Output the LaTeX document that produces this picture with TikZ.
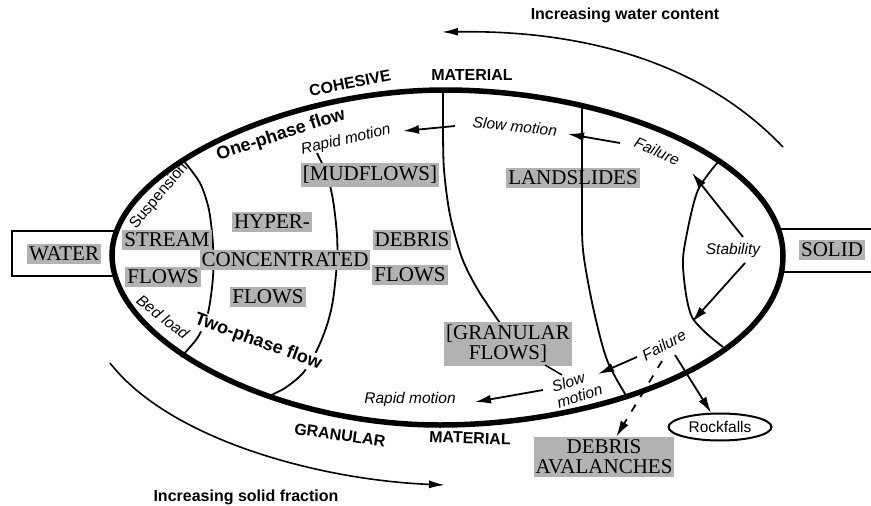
\documentclass[tikz,border=0pt]{standalone}
\usepackage{fontspec}
\setmainfont{Liberation Serif}
\setsansfont{Liberation Sans}
\usetikzlibrary{arrows.meta,shapes.geometric}
\begin{document}
\begin{tikzpicture}[x=1pt,y=-1pt,
  grayword/.style={fill=black!30, text=black, inner xsep=2pt, inner ysep=3pt, font=\fontsize{21}{20}\selectfont, align=center},
  note/.style={font=\sffamily\itshape\fontsize{15.5}{17}\selectfont, inner sep=1pt},
  plainlbl/.style={font=\sffamily\fontsize{15.5}{17}\selectfont, inner sep=1pt},
  heavy/.style={font=\sffamily\bfseries\fontsize{16}{18}\selectfont, inner sep=1pt},
  phase/.style={font=\sffamily\bfseries\fontsize{18}{20}\selectfont, inner sep=1pt},
  curve/.style={line width=1.8pt},
  arr/.style={line width=1.8pt, -{Latex[length=16pt,width=9pt]}},
  bigarr/.style={line width=1.6pt, -{Latex[length=16pt,width=8pt]}},
  rimline/.style={line width=5.5pt},
  boxline/.style={line width=2.5pt},
]
\useasboundingbox (0,0) rectangle (871,506);

% water / solid boxes
\draw[boxline] (116,231) -- (12,231) -- (12,276) -- (115,276);
\draw[boxline] (779,229) -- (871,229);
\draw[boxline] (781,272) -- (871,272);

% internal boundaries (behind gray words)
\draw[curve] plot[smooth] coordinates {(183,160) (200,183) (209,210) (213,245) (213,277) (208,313) (198,337) (181,357)};
\draw[curve] plot[smooth] coordinates {(317,153) (327,175) (333,200) (337,235) (337,262) (333,300) (327,325) (317,350) (303,373) (285,388) (267,397)};
\draw[curve] plot[smooth] coordinates {(443,90) (443,130) (444,170) (450,215) (462,258) (478,290) (500,323)};

% gray words
\node[grayword] (water) at (64,254) {WATER};
\node[grayword] (solid) at (832,250) {SOLID};
\node[grayword] (stream) at (167,240) {STREAM};
\node[grayword] (sflows) at (163,277) {FLOWS};
\node[grayword] (hyper) at (272,222) {HYPER-};
\node[grayword] (conc) at (285,260) {CONCENTRATED};
\node[grayword] (hflows) at (268,297) {FLOWS};
\node[grayword] (debris) at (412,240) {DEBRIS};
\node[grayword] (dflows) at (410,275) {FLOWS};
\node[grayword] (mud) at (370,175) {[MUDFLOWS]};
\node[grayword] (land) at (573,178) {LANDSLIDES};
\node[grayword] (gflows) at (508,344) {[GRANULAR\\FLOWS]};
\node[grayword] (debav) at (604,457) {DEBRIS\\AVALANCHES};

\draw[curve] plot[smooth] coordinates {(582,107) (582,150) (582,200) (583,250) (593,307) (607,360) (627,397)};
\draw[curve] plot[smooth] coordinates {(718,162) (698,190) (687,233) (683,267) (692,317) (723,347)};

% rim
\draw[rimline] (112,255) .. controls (112,172) and (280,90) .. (445,90)
  .. controls (610,90) and (783,160) .. (783,256)
  .. controls (783,360) and (600,425) .. (440,425)
  .. controls (270,425) and (112,340) .. (112,255) -- cycle;

% labels
\node[heavy, rotate=11] (cohesive) at (350,83) {COHESIVE};
\node[heavy] (matT) at (472,75) {MATERIAL};
\node[heavy, rotate=-8] (gran) at (340,435) {GRANULAR};
\node[heavy, rotate=-2] (matB) at (470,438) {MATERIAL};
\node[heavy] (incw) at (625,15) {Increasing water content};
\node[heavy] (incs) at (246,497) {Increasing solid fraction};
\node[phase, rotate=18] (one) at (281,135) {One-phase flow};
\node[phase, rotate=-20, fill=white] (two) at (258,342) {Two-phase flow};
\node[plainlbl, rotate=50] (susp) at (159,196) {Suspension};
\node[note, rotate=-38] (bed) at (163,317) {Bed load};
\node[note, rotate=13] (rapT) at (346,140) {Rapid motion};
\node[note, rotate=-6] (slowT) at (515,126) {Slow motion};
\node[note, rotate=-24] (failT) at (657,151) {Failure};
\node[note] (stab) at (733,250) {Stability};
\node[note, rotate=29] (failB) at (664,345) {Failure};
\node[note, rotate=18, align=left] (slowB) at (577,388) {Slow\\motion};
\node[note] (rapB) at (410,399) {Rapid motion};
\node[draw, ellipse, line width=2pt, minimum width=103pt, minimum height=27pt, plainlbl] (rock) at (720,427) {Rockfalls};

% arrows
\coordinate (p1) at (455,126); \coordinate (q1) at (403,131);
\coordinate (p2) at (620,143); \coordinate (q2) at (568,134);
\coordinate (p3) at (743,237); \coordinate (q3) at (692,173);
\coordinate (p4) at (745,263); \coordinate (q4) at (692,322);
\coordinate (p5) at (637,357); \coordinate (q5) at (598,374);
\coordinate (p6) at (662,361);
\coordinate (p7) at (675,355);
\coordinate (p8) at (543,390); \coordinate (q8) at (475,402);
\coordinate (g1) at (545,365); \coordinate (g2) at (562,375);
\draw[arr] (p1) -- (q1);
\draw[arr] (p2) -- (q2);
\draw[arr] (p3) -- (q3);
\draw[arr] (p4) -- (q4);
\draw[arr] (p5) -- (q5);
\draw[arr, dash pattern=on 8pt off 9pt] (p6) -- (debav);
\draw[arr] (p7) -- (rock);
\draw[arr] (p8) -- (q8);
\draw[line width=1.5pt] (g1) -- (g2);

% big trend arrows
\coordinate (w1) at (783,147); \coordinate (w2) at (442,32);
\draw[bigarr] (w1) .. controls (700,60) and (580,30) .. (w2);
\coordinate (s1) at (110,363); \coordinate (s2) at (445,485);
\draw[bigarr] (s1) .. controls (170,440) and (320,480) .. (s2);
\end{tikzpicture}
\end{document}
